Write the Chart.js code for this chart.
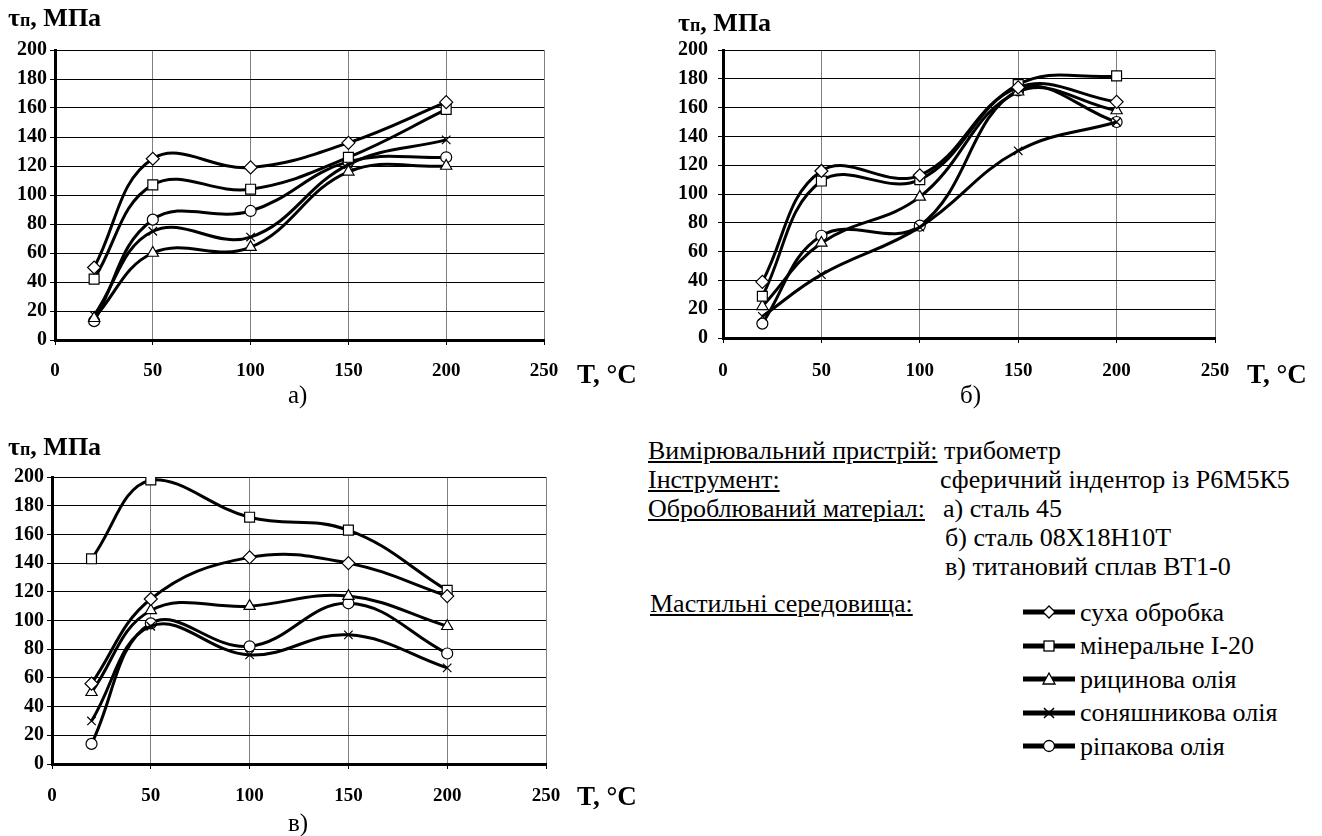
<!DOCTYPE html>
<html>
<head>
<meta charset="utf-8">
<script src="https://cdn.jsdelivr.net/npm/chart.js@4.4.1/dist/chart.umd.min.js"></script>
<style>
  body { margin: 0; background: #fff; }
  #page { position: relative; width: 1322px; height: 836px; overflow: hidden; font-family: "Liberation Serif", Tinos, "Times New Roman", serif; color: #000; }
  canvas { position: absolute; }
  .t { position: absolute; white-space: nowrap; }
  .ytitle { font-weight: bold; font-size: 26px; line-height: 26px; }
  .ytitle span { font-size: 18px; }
  .xtitle { font-weight: bold; font-size: 27px; line-height: 27px; }
  .sub { font-size: 25px; line-height: 26px; }
  .info { font-size: 26px; line-height: 29px; }
  .u { text-decoration: underline; }
  svg { position: absolute; }
</style>
</head>
<body>
<div id="page">
  <canvas id="chartA" width="600" height="390" style="left:0;top:0"></canvas>
  <canvas id="chartB" width="640" height="390" style="left:640px;top:0"></canvas>
  <canvas id="chartC" width="600" height="390" style="left:0;top:420px"></canvas>

  <div class="t ytitle" style="left:8px;top:5px">τ<span>п</span>, МПа</div>
  <div class="t ytitle" style="left:678px;top:10px">τ<span>п</span>, МПа</div>
  <div class="t ytitle" style="left:8px;top:434px">τ<span>п</span>, МПа</div>

  <div class="t xtitle" style="left:577px;top:361px">T, °C</div>
  <div class="t xtitle" style="left:1247px;top:361px">T, °C</div>
  <div class="t xtitle" style="left:577px;top:783px">T, °C</div>

  <div class="t sub" style="left:288px;top:382px">а)</div>
  <div class="t sub" style="left:960px;top:382px">б)</div>
  <div class="t sub" style="left:288px;top:810px">в)</div>

  <div class="t info" style="left:648px;top:436px"><span class="u">Вимірювальний пристрій:</span> трибометр</div>
  <div class="t info u" style="left:648px;top:465px">Інструмент:</div>
  <div class="t info" style="left:940px;top:465px">сферичний індентор із Р6М5К5</div>
  <div class="t info u" style="left:648px;top:494px">Оброблюваний матеріал:</div>
  <div class="t info" style="left:943px;top:494px">а) сталь 45</div>
  <div class="t info" style="left:945px;top:523px">б) сталь 08Х18Н10Т</div>
  <div class="t info" style="left:945px;top:552px">в) титановий сплав ВТ1-0</div>
  <div class="t info u" style="left:650px;top:589px">Мастильні середовища:</div>
  <div id="legend"></div>
</div>

<script>
// temperatures, °C
var temps = [20, 50, 100, 150, 200];
var seriesNames = ['суха обробка', 'мінеральне І-20', 'рицинова олія', 'соняшникова олія', 'ріпакова олія'];
var markers = ['rectRot', 'rect', 'triangle', 'crossRot', 'circle'];
var markerSizes = [6.5, 7, 6.5, 6, 5.5];

// а) сталь 45
var dryA       = [50, 125, 119, 136, 164];
var mineralA   = [42, 107, 104, 126, 159];
var castorA    = [15, 60, 64, 116, 120];
var sunflowerA = [17, 75, 71, 121, 138];
var rapeA      = [13, 83, 89, 123, 126];

// б) сталь 08Х18Н10Т
var dryB       = [39, 116, 113, 174, 164];
var mineralB   = [29, 109, 110, 176, 182];
var castorB    = [22, 66, 98, 171, 158];
var sunflowerB = [15, 44, 77, 130, 150];
var rapeB      = [10, 71, 78, 172, 150];

// в) титановий сплав ВТ1-0
var dryC       = [56, 115, 144, 140, 117];
var mineralC   = [143, 198, 172, 163, 121];
var castorC    = [50, 107, 110, 117, 96];
var sunflowerC = [30, 96, 76, 90, 67];
var rapeC      = [14, 98, 82, 112, 77];

var xTicks = [0, 50, 100, 150, 200, 250];
var yTicks = [0, 20, 40, 60, 80, 100, 120, 140, 160, 180, 200];

var FONT = '"Liberation Serif", Tinos, "Times New Roman", serif';

function makeDatasets(seriesList){
    var out = [];
    for(var i = 0; i < seriesList.length; i++){
        var pts = [];
        for(var j = 0; j < temps.length; j++){
            pts.push({x: temps[j], y: seriesList[i][j]});
        }
        out.push({
            label: seriesNames[i],
            data: pts,
            borderColor: '#000',
            borderWidth: 3,
            tension: 0.4,
            pointStyle: markers[i],
            pointRadius: markerSizes[i],
            pointBackgroundColor: '#fff',
            pointBorderColor: '#000',
            pointBorderWidth: 1.2,
            fill: false
        });
    }
    return out;
}

function makeChart(id, seriesList, geo){
    return new Chart(document.getElementById(id).getContext('2d'), {
        type: 'line',
        data: { datasets: makeDatasets(seriesList) },
        options: {
            responsive: false,
            animation: false,
            events: [],
            layout: { padding: { top: geo.top, right: geo.right, left: 0, bottom: 0 } },
            plugins: { legend: { display: false }, tooltip: { enabled: false } },
            scales: {
                x: {
                    type: 'linear',
                    min: xTicks[0],
                    max: xTicks[xTicks.length - 1],
                    afterBuildTicks: function(s){ s.ticks = xTicks.map(function(v){ return {value: v}; }); },
                    afterFit: function(s){ s.height = geo.xh; },
                    ticks: { color: '#000', padding: geo.xpad, maxRotation: 0, font: { family: FONT, size: 19, weight: 'bold' } },
                    grid: { color: '#808080', lineWidth: 1, tickLength: 5, tickColor: '#000' },
                    border: { color: '#000', width: 3 }
                },
                y: {
                    min: yTicks[0],
                    max: yTicks[yTicks.length - 1],
                    afterBuildTicks: function(s){ s.ticks = yTicks.map(function(v){ return {value: v}; }); },
                    afterFit: function(s){ s.width = geo.yw; },
                    ticks: { color: '#000', padding: geo.ypad, font: { family: FONT, size: 20, weight: 'bold' } },
                    grid: { color: '#000', lineWidth: 1, tickLength: 5, tickColor: '#000' },
                    border: { color: '#000', width: 3 }
                }
            }
        }
    });
}

makeChart('chartA', [dryA, mineralA, castorA, sunflowerA, rapeA], { top: 50, right: 56, xh: 50, yw: 55, xpad: 15, ypad: 3 });
makeChart('chartB', [dryB, mineralB, castorB, sunflowerB, rapeB], { top: 50, right: 65, xh: 52, yw: 83, xpad: 17, ypad: 10 });
makeChart('chartC', [dryC, mineralC, castorC, sunflowerC, rapeC], { top: 57, right: 54, xh: 46, yw: 52, xpad: 16, ypad: 3 });

// legend: thick line with the marker, then the series name
var icons = [
    '<polygon points="26,2 32,8 26,14 20,8" fill="#fff" stroke="#000" stroke-width="1.3"/>',
    '<rect x="21" y="3" width="10" height="10" fill="#fff" stroke="#000" stroke-width="1.3"/>',
    '<polygon points="26,2 32,13 20,13" fill="#fff" stroke="#000" stroke-width="1.3"/>',
    '<path d="M21,3 L31,13 M31,3 L21,13" stroke="#000" stroke-width="1.5"/>',
    '<circle cx="26" cy="8" r="5.5" fill="#fff" stroke="#000" stroke-width="1.3"/>'
];
var legendHtml = '';
for(var k = 0; k < seriesNames.length; k++){
    var cy = 612 + k * 33.5;
    legendHtml += '<svg width="52" height="16" style="left:1023px;top:' + (cy - 8) + 'px">' +
        '<line x1="0" y1="8" x2="52" y2="8" stroke="#000" stroke-width="5"/>' + icons[k] + '</svg>';
    legendHtml += '<div class="t info" style="left:1080px;top:' + (cy - 14.5) + 'px">' + seriesNames[k] + '</div>';
}
document.getElementById('legend').innerHTML = legendHtml;
</script>
</body>
</html>
